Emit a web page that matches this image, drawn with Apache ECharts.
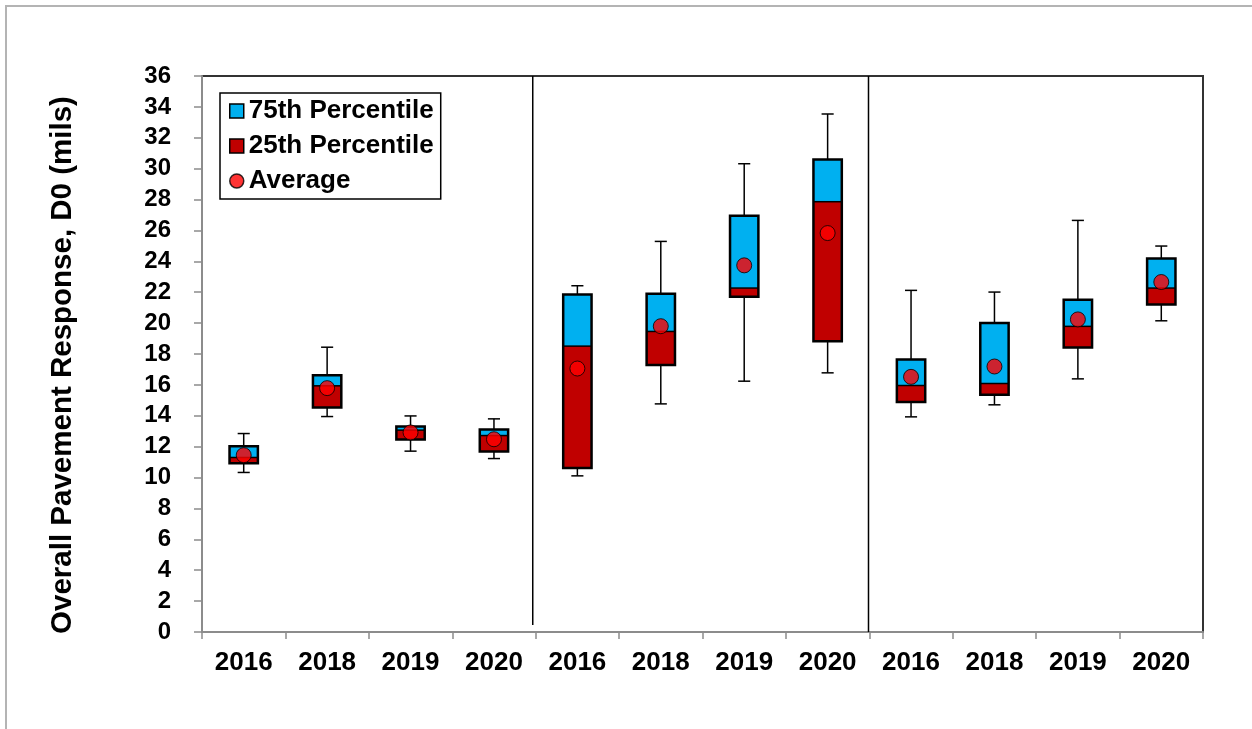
<!DOCTYPE html>
<html>
<head>
<meta charset="utf-8">
<script src="https://cdn.jsdelivr.net/npm/echarts@6/dist/echarts.min.js"></script>
<style>
  html, body { margin: 0; padding: 0; background: #fff; }
  #frame { position: absolute; left: 5px; top: 5px; width: 1400px; height: 900px;
           border-top: 2px solid #b4b4b4; border-left: 2px solid #b4b4b4; }
  #chart { position: absolute; left: 0; top: 0; width: 1252px; height: 729px; }
</style>
</head>
<body>
<div id="frame"></div>
<div id="chart"></div>
<script>
// Survey years for the three pavement sections (4 years each)
const categories = ['2016', '2018', '2019', '2020',
                    '2016', '2018', '2019', '2020',
                    '2016', '2018', '2019', '2020'];
// Deflection statistics, D0 in mils
const whiskerMax = [12.85, 18.44, 13.99, 13.80, 22.42, 25.29, 30.32, 33.54, 22.12, 22.01, 26.65, 24.99];
const q3         = [12.03, 16.63, 13.30, 13.11, 21.86, 21.90, 26.95, 30.60, 17.65, 20.00, 21.51, 24.19];
const median     = [11.30, 15.94, 13.07, 12.72, 18.51, 19.46, 22.27, 27.86, 15.96, 16.09, 19.79, 22.27];
const q1         = [10.93, 14.54, 12.46, 11.69, 10.62, 17.28, 21.70, 18.83, 14.90, 15.36, 18.42, 21.21];
const whiskerMin = [10.33, 13.95, 11.71, 11.23, 10.11, 14.77, 16.24, 16.78, 13.93, 14.71, 16.39, 20.15];
const average    = [11.45, 15.79, 12.92, 12.48, 17.06, 19.80, 23.74, 25.83, 16.52, 17.19, 20.24, 22.66];
// Section dividers on a 0..12 slot scale: [x position, lower end, upper end]
const dividers = [[3.965, 0.45, 36], [7.99, 0, 36]];
// Y axis ticks
const yMin = 0, yMax = 36, yStep = 2;

const BLUE = '#00B0F0', RED = '#C00000', DOT = '#FF0000';
const FONT = 'Liberation Sans, Arial, sans-serif';

const boxData = categories.map((c, i) => [i, q1[i], median[i], q3[i], whiskerMin[i], whiskerMax[i]]);
const BOX_FRAC = 0.34, CAP_FRAC = 0.145;

function halfBox(api, lowIdx, highIdx, color) {
  const i = api.value(0);
  const bw = api.size([1, 0])[0] * BOX_FRAC;
  const lo = api.coord([i, api.value(lowIdx)]);
  const hi = api.coord([i, api.value(highIdx)]);
  return {
    type: 'rect',
    shape: { x: lo[0] - bw / 2, y: hi[1], width: bw, height: lo[1] - hi[1] },
    style: { fill: color, stroke: null }
  };
}

function outline(params, api) {
  const i = api.value(0);
  const band = api.size([1, 0])[0];
  const bw = band * BOX_FRAC, cw = band * CAP_FRAC;
  const pQ1 = api.coord([i, api.value(1)]);
  const pMed = api.coord([i, api.value(2)]);
  const pQ3 = api.coord([i, api.value(3)]);
  const pMin = api.coord([i, api.value(4)]);
  const pMax = api.coord([i, api.value(5)]);
  const x = pQ1[0];
  const thin = { stroke: '#000', lineWidth: 1.5, fill: null };
  return {
    type: 'group',
    children: [
      { type: 'line', shape: { x1: x, y1: pQ3[1], x2: x, y2: pMax[1] }, style: thin },
      { type: 'line', shape: { x1: x - cw / 2, y1: pMax[1], x2: x + cw / 2, y2: pMax[1] }, style: thin },
      { type: 'line', shape: { x1: x, y1: pQ1[1], x2: x, y2: pMin[1] }, style: thin },
      { type: 'line', shape: { x1: x - cw / 2, y1: pMin[1], x2: x + cw / 2, y2: pMin[1] }, style: thin },
      { type: 'line', shape: { x1: x - bw / 2, y1: pMed[1], x2: x + bw / 2, y2: pMed[1] },
        style: { stroke: '#000', lineWidth: 1.5 } },
      { type: 'rect', shape: { x: x - bw / 2, y: pQ3[1], width: bw, height: pQ1[1] - pQ3[1] },
        style: { fill: null, stroke: '#000', lineWidth: 2.5 } }
    ]
  };
}

const chart = echarts.init(document.getElementById('chart'), null, { renderer: 'canvas' });

const dividerSeries = dividers.map(d => ({
  type: 'line', xAxisIndex: 1, yAxisIndex: 0, silent: true, symbol: 'none',
  data: [[d[0], d[1]], [d[0], d[2]]],
  lineStyle: { color: '#000', width: 1.5 }, z: 1
}));

chart.setOption({
  animation: false,
  backgroundColor: 'transparent',
  textStyle: { fontFamily: FONT },
  grid: {
    left: 202, right: 49, top: 76, bottom: 97,
    show: true, borderColor: '#333', borderWidth: 2, backgroundColor: 'transparent'
  },
  legend: {
    orient: 'vertical',
    left: 220, top: 93,
    padding: [5, 7, 5, 9],
    itemGap: 9,
    itemWidth: 14, itemHeight: 14,
    itemTextGap: 6,
    borderColor: '#000', borderWidth: 1.5,
    backgroundColor: '#fff',
    textStyle: { fontSize: 26, fontWeight: 'bold', color: '#000', fontFamily: FONT },
    data: [
      { name: '75th Percentile', icon: 'rect', itemStyle: { color: BLUE, borderColor: '#000', borderWidth: 1.5 } },
      { name: '25th Percentile', icon: 'rect', itemStyle: { color: RED, borderColor: '#000', borderWidth: 1.5 } },
      { name: 'Average', icon: 'circle', itemStyle: { color: DOT, borderColor: '#000', borderWidth: 1.5 } }
    ],
    selectedMode: false
  },
  xAxis: [
    {
      type: 'category',
      data: categories,
      boundaryGap: true,
      axisLine: { lineStyle: { color: '#8c8c8c', width: 2 } },
      axisTick: { show: true, interval: 0, length: 7, lineStyle: { color: '#8c8c8c', width: 1.5 } },
      axisLabel: { interval: 0, margin: 18, fontSize: 26, fontWeight: 'bold', color: '#000', fontFamily: FONT },
      splitLine: { show: false }
    },
    { type: 'value', min: 0, max: categories.length, show: false }
  ],
  yAxis: {
    type: 'value',
    min: yMin, max: yMax, interval: yStep,
    name: 'Overall Pavement Response, D0 (mils)',
    nameLocation: 'middle',
    nameGap: 124,
    nameTextStyle: { fontSize: 29.5, fontWeight: 'bold', color: '#000', fontFamily: FONT, padding: [0, 22, 0, 0] },
    axisLine: { show: true, lineStyle: { color: '#8c8c8c', width: 2 } },
    axisTick: { show: true, length: 8, lineStyle: { color: '#8c8c8c', width: 1.5 } },
    axisLabel: { margin: 31, fontSize: 24, fontWeight: 'bold', color: '#000', fontFamily: FONT },
    splitLine: { show: false }
  },
  series: [
    ...dividerSeries,
    {
      name: '75th Percentile', type: 'custom', xAxisIndex: 0, z: 2,
      itemStyle: { color: BLUE },
      encode: { x: 0, y: [1, 2, 3, 4, 5] },
      renderItem: (p, api) => halfBox(api, 2, 3, BLUE),
      data: boxData
    },
    {
      name: '25th Percentile', type: 'custom', xAxisIndex: 0, z: 2,
      itemStyle: { color: RED },
      encode: { x: 0, y: [1, 2, 3, 4, 5] },
      renderItem: (p, api) => halfBox(api, 1, 2, RED),
      data: boxData
    },
    {
      name: 'frame', type: 'custom', xAxisIndex: 0, z: 3,
      encode: { x: 0, y: [1, 2, 3, 4, 5] },
      renderItem: outline,
      data: boxData
    },
    {
      name: 'Average', type: 'scatter', xAxisIndex: 0, z: 4,
      symbol: 'circle', symbolSize: 15,
      itemStyle: { color: DOT, borderColor: '#000', borderWidth: 1 },
      data: average
    }
  ]
});
</script>
</body>
</html>
